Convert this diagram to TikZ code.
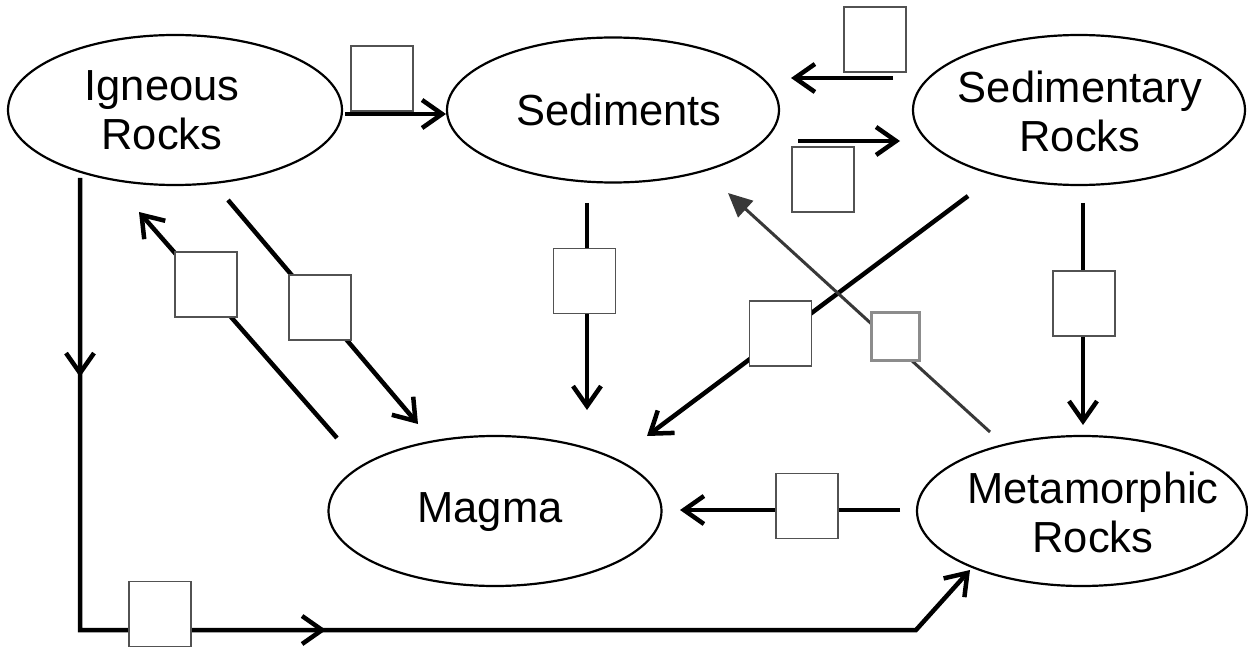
\documentclass[tikz,border=0pt]{standalone}
\usepackage{fontspec}
\setmainfont{Liberation Sans}
\usetikzlibrary{shapes.geometric,arrows.meta,decorations.markings}
\begin{document}
\begin{tikzpicture}[x=1pt,y=-1pt,
  rock/.style={draw,line width=2.2pt,ellipse,inner sep=0pt},
  lbl/.style={inner sep=0pt,align=center,font=\fontsize{43.5}{49}\selectfont},
  box/.style={draw=black!68,fill=white,line width=1.6pt,minimum width=62pt,minimum height=65pt,inner sep=0pt},
  gbox/.style={draw=black!45,fill=white,line width=2.6pt,minimum width=48pt,minimum height=48pt,inner sep=0pt},
  conn/.style={line width=4.5pt,-{Straight Barb[length=20pt,width=28pt]}},
  gconn/.style={draw=black!78,line width=3pt,-{Triangle[length=24pt,width=22pt,fill=black!78]}},
  midtip/.style={postaction={decorate},decoration={markings,
     mark=at position 199pt with {\arrow{Straight Barb[length=20pt,width=28pt]}},
     mark=at position 698pt with {\arrow{Straight Barb[length=20pt,width=28pt]}}}}
]
\useasboundingbox (0,0) rectangle (1248,647);
\fill[white] (0,0) rectangle (1248,647);

% ellipses
\node[rock,minimum width=334pt,minimum height=150pt] (ign) at (175,110) {};
\node[rock,minimum width=332pt,minimum height=145pt] (sed) at (613,110) {};
\node[rock,minimum width=332pt,minimum height=150pt] (sedr) at (1079,110) {};
\node[rock,minimum width=333pt,minimum height=150pt] (mag) at (495,511) {};
\node[rock,minimum width=330pt,minimum height=150pt] (met) at (1082,511) {};

% texts
\node[lbl] (ignT) at (162,110.5) {Igneous\\Rocks};
\node[lbl] (sedT) at (619,110) {Sediments};
\node[lbl] (sedrT) at (1080,111) {Sedimentary\\Rocks};
\node[lbl] (magT) at (490,512) {Magma};
\node[lbl] (metT) at (1093,512) {Metamorphic\\Rocks};

% connector end points
\coordinate (a1) at (345,114);  \coordinate (a2) at (446,114);
\coordinate (b1) at (893,78);   \coordinate (b2) at (791,78);
\coordinate (c1) at (798,141);  \coordinate (c2) at (900,141);
\coordinate (d1) at (80,178);   \coordinate (d2) at (80,630);
\coordinate (d3) at (916,630);  \coordinate (d4) at (970,570);
\coordinate (e1) at (337,438);  \coordinate (e2) at (139,212);
\coordinate (f1) at (228,200);  \coordinate (f2) at (418,424);
\coordinate (g1) at (587,203);  \coordinate (g2) at (587,410);
\coordinate (h1) at (968,196);  \coordinate (h2) at (647,436);
\coordinate (i1) at (990,432);  \coordinate (i2) at (728,193);
\coordinate (j1) at (1083,203); \coordinate (j2) at (1083,425);
\coordinate (k1) at (900,510);  \coordinate (k2) at (680,510);

% connectors
\draw[conn] (a1) -- (a2);
\draw[conn] (b1) -- (b2);
\draw[conn] (c1) -- (c2);
\draw[conn,midtip] (d1) -- (d2) -- (d3) -- (d4);
\draw[conn] (e1) -- (e2);
\draw[conn] (f1) -- (f2);
\draw[conn] (g1) -- (g2);
\draw[conn] (h1) -- (h2);
\draw[gconn] (i1) -- (i2);
\draw[conn] (j1) -- (j2);
\draw[conn] (k1) -- (k2);

% label boxes
\node[box] (l1) at (382,78.5) {};
\node[box] (l2) at (875,39.5) {};
\node[box] (l3) at (823,179.5) {};
\node[box] (l4) at (206,284.5) {};
\node[box] (l5) at (320,307.5) {};
\node[box] (l6) at (584.5,281) {};
\node[box] (l7) at (780.5,333.5) {};
\node[gbox] (l8) at (895.5,336.5) {};
\node[box] (l9) at (1084,303.5) {};
\node[box] (l10) at (807,506) {};
\node[box] (l11) at (160,614) {};
\end{tikzpicture}
\end{document}
